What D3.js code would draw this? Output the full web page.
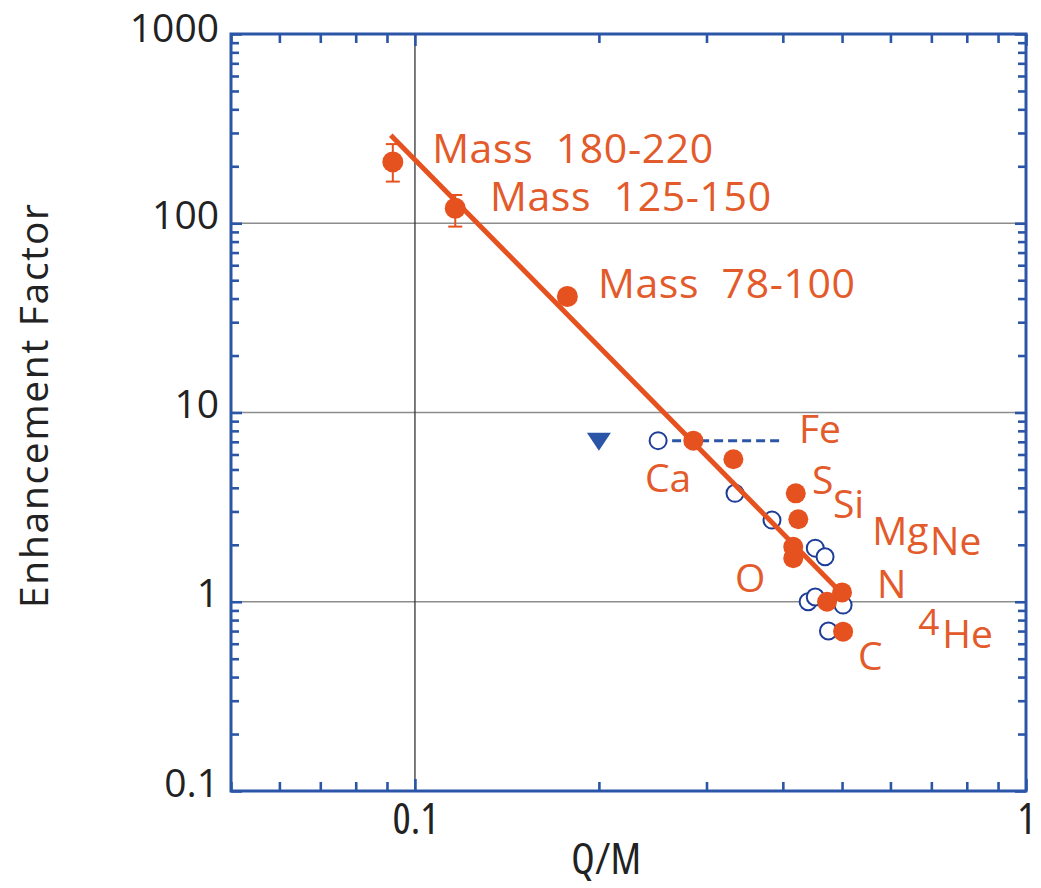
<!DOCTYPE html>
<html>
<head>
<meta charset="utf-8">
<script src="https://cdn.jsdelivr.net/npm/d3@7/dist/d3.min.js"></script>
<style>
  html, body { margin: 0; padding: 0; background: #fff; }
  svg { display: block; }
  .lbl { white-space: pre; }
</style>
</head>
<body>
<svg id="chart" width="1041" height="888"></svg>
<script>
// Heavy-ion enhancement factor versus charge-to-mass ratio

// Heavy nuclei mass groups
const massNames = ["Mass  180-220", "Mass  125-150", "Mass  78-100"];
const massQM    = [0.092, 0.1164, 0.1776];
const massEF    = [211, 120, 41];
const massErrLo = [166, 96, null];
const massErrHi = [262, 141, null];

// Element enhancements (filled symbols)
const filledQM = [0.2855, 0.332, 0.42, 0.424, 0.416, 0.416, 0.4725, 0.50, 0.502];
const filledEF = [7.1, 5.66, 3.74, 2.73, 1.95, 1.70, 1.0, 1.12, 0.695];

// Comparison enhancements (open symbols)
const openQM = [0.25, 0.334, 0.384, 0.452, 0.469, 0.440, 0.452, 0.502, 0.475];
const openEF = [7.1, 3.74, 2.70, 1.92, 1.73, 1.0, 1.06, 0.96, 0.70];

// Upper limit marker and its dashed range
const limitQM = [0.2];
const limitEF = [7.1];
const rangeQM = [0.25, 0.4];
const rangeEF = [7.1, 7.1];

// Power-law fit end points
const fitQM = [0.0913, 0.49];
const fitEF = [292, 1.18];

// Element names and where they sit (Q/M, factor)
const elemNames = ["Fe", "Ca", "S", "Si", "Mg", "Ne", "O", "N", "C"];
const elemQM    = [0.425, 0.2379, 0.4466, 0.4832, 0.56, 0.6965, 0.334, 0.5705, 0.531];
const elemEF    = [6.9, 3.8, 3.71, 2.77, 1.995, 1.766, 1.126, 1.047, 0.436];
// Mass group label anchors
const massLblQM = [0.1067, 0.1327, 0.1993];
const massLblEF = [208, 116, 40.3];
// 4He label anchor
const heQM = [0.666];
const heEF = [0.667];

// Axis ticks
const yMajor = [0.1, 1, 10, 100, 1000];
const yLabels = ["0.1", "1", "10", "100", "1000"];
const xMajor = [0.1, 1];
const xLabels = ["0.1", "1"];
const yGrid = [1, 10, 100];
const xGrid = [0.1];

const W = 1041, H = 888;
const M = { left: 231, right: W - 1026, top: 34, bottom: H - 791 };
const iw = W - M.left - M.right, ih = H - M.top - M.bottom;

const ORANGE = "#e6521f", ORANGE_TXT = "#e35a2b", BLUE = "#2b56a8", OPEN_BLUE = "#1f3d98";

const svg = d3.select("#chart");
const g = svg.append("g").attr("transform", `translate(${M.left},${M.top})`);

const x = d3.scaleLog().domain([0.05, 1]).range([0, iw]);
const y = d3.scaleLog().domain([0.1, 1000]).range([ih, 0]);

const xMinor = x.ticks().filter(v => !xMajor.some(m => Math.abs(m - v) < 1e-9));
const yMinor = y.ticks().filter(v => !yMajor.some(m => Math.abs(m - v) < 1e-9));

// Grid lines
g.append("g").selectAll("line").data(yGrid).join("line")
  .attr("x1", 0).attr("x2", iw)
  .attr("y1", d => y(d)).attr("y2", d => y(d))
  .attr("stroke", "#8c8c8c").attr("stroke-width", 1.6);
g.append("g").selectAll("line").data(xGrid).join("line")
  .attr("x1", d => x(d)).attr("x2", d => x(d))
  .attr("y1", 0).attr("y2", ih)
  .attr("stroke", "#333").attr("stroke-width", 1.3);

// Axes: ticks on all four sides, pointing inward
function styleAxis(sel) {
  sel.select(".domain").remove();
  sel.selectAll(".tick line").attr("stroke", BLUE).attr("stroke-width", 2.6);
}
const fontTick = "'Open Sans', 'DejaVu Sans', sans-serif";
const fontNarrow = "'Open Sans', 'DejaVu Sans', sans-serif";

g.append("g").call(d3.axisLeft(y).tickValues(yMinor).tickSize(-8).tickFormat("")).call(styleAxis);
g.append("g").call(d3.axisLeft(y).tickValues(yMajor).tickSize(-11).tickPadding(12)
    .tickFormat((d, i) => yLabels[i])).call(styleAxis)
  .call(s => s.selectAll("text").attr("font-family", fontTick).attr("font-size", 39)
    .attr("fill", "#222").attr("dy", d => d === 1000 ? "0.2em" : "0.13em"));
g.append("g").attr("transform", `translate(${iw},0)`)
  .call(d3.axisRight(y).tickValues(yMinor).tickSize(-8).tickFormat("")).call(styleAxis);
g.append("g").attr("transform", `translate(${iw},0)`)
  .call(d3.axisRight(y).tickValues(yMajor).tickSize(-11).tickFormat("")).call(styleAxis);

g.append("g").attr("transform", `translate(0,${ih})`)
  .call(d3.axisBottom(x).tickValues(xMinor).tickSize(-9).tickFormat("")).call(styleAxis);
g.append("g").attr("transform", `translate(0,${ih})`)
  .call(d3.axisBottom(x).tickValues(xMajor).tickSize(-12).tickPadding(12)
    .tickFormat((d, i) => xLabels[i])).call(styleAxis)
  .call(s => s.selectAll("text").attr("font-family", fontNarrow).attr("font-size", 43)
    .attr("font-stretch", "condensed")
    .attr("fill", "#222").attr("dy", "0.71em"));
g.append("g")
  .call(d3.axisTop(x).tickValues(xMinor).tickSize(-9).tickFormat("")).call(styleAxis);
g.append("g")
  .call(d3.axisTop(x).tickValues(xMajor).tickSize(-12).tickFormat("")).call(styleAxis);

// Frame
g.append("rect").attr("x", 0).attr("y", 0).attr("width", iw).attr("height", ih)
  .attr("fill", "none").attr("stroke", BLUE).attr("stroke-width", 3);

// Axis titles
svg.append("text")
  .attr("transform", `translate(48,406) rotate(-90)`)
  .attr("text-anchor", "middle")
  .attr("font-family", fontTick).attr("font-size", 39).attr("fill", "#222")
  .attr("textLength", 404).attr("lengthAdjust", "spacing")
  .text("Enhancement Factor");
svg.append("text")
  .attr("x", M.left + x(0.2055)).attr("y", 874)
  .attr("text-anchor", "middle")
  .attr("font-family", fontNarrow).attr("font-size", 43).attr("fill", "#222")
  .attr("font-stretch", "condensed")
  .text("Q/M");

// Dashed range and upper-limit marker
g.append("path")
  .attr("d", d3.line().x(d => x(d[0])).y(d => y(d[1]))(d3.zip(rangeQM, rangeEF)))
  .attr("stroke", BLUE).attr("stroke-width", 3).attr("fill", "none")
  .attr("stroke-dasharray", "9,5");
g.append("g").selectAll("path").data(d3.zip(limitQM, limitEF)).join("path")
  .attr("transform", d => `translate(${x(d[0])},${y(d[1])})`)
  .attr("d", "M-12,-8L12,-8L0,10Z")
  .attr("fill", BLUE);

// Open symbols
g.append("g").selectAll("circle").data(d3.zip(openQM, openEF)).join("circle")
  .attr("cx", d => x(d[0])).attr("cy", d => y(d[1])).attr("r", 8.5)
  .attr("fill", "#fff").attr("stroke", OPEN_BLUE).attr("stroke-width", 2);

// Error bars on the mass groups
const errs = d3.range(massQM.length).filter(i => massErrLo[i] != null);
const eb = g.append("g").attr("stroke", ORANGE).attr("stroke-width", 2);
eb.selectAll("line.v").data(errs).join("line").attr("class", "v")
  .attr("x1", i => x(massQM[i])).attr("x2", i => x(massQM[i]))
  .attr("y1", i => y(massErrLo[i])).attr("y2", i => y(massErrHi[i]));
eb.selectAll("line.lo").data(errs).join("line").attr("class", "lo")
  .attr("x1", i => x(massQM[i]) - 7).attr("x2", i => x(massQM[i]) + 7)
  .attr("y1", i => y(massErrLo[i])).attr("y2", i => y(massErrLo[i]));
eb.selectAll("line.hi").data(errs).join("line").attr("class", "hi")
  .attr("x1", i => x(massQM[i]) - 7).attr("x2", i => x(massQM[i]) + 7)
  .attr("y1", i => y(massErrHi[i])).attr("y2", i => y(massErrHi[i]));

// Fit line
g.append("path")
  .attr("d", d3.line().x(d => x(d[0])).y(d => y(d[1]))(d3.zip(fitQM, fitEF)))
  .attr("stroke", ORANGE).attr("stroke-width", 5).attr("fill", "none");

// Filled symbols
g.append("g").selectAll("circle").data(d3.zip(massQM, massEF)).join("circle")
  .attr("cx", d => x(d[0])).attr("cy", d => y(d[1])).attr("r", 10.5)
  .attr("fill", ORANGE);
g.append("g").selectAll("circle").data(d3.zip(filledQM, filledEF)).join("circle")
  .attr("cx", d => x(d[0])).attr("cy", d => y(d[1])).attr("r", 10)
  .attr("fill", ORANGE);

// Labels
const fontLbl = "'Open Sans', 'DejaVu Sans', sans-serif";
g.append("g").selectAll("text").data(d3.range(massNames.length)).join("text")
  .attr("class", "lbl")
  .attr("x", i => x(massLblQM[i])).attr("y", i => y(massLblEF[i]))
  .attr("font-family", fontLbl).attr("font-size", 41).attr("fill", ORANGE_TXT)
  .attr("letter-spacing", 0.6)
  .text(i => massNames[i]);
g.append("g").selectAll("text").data(d3.range(elemNames.length)).join("text")
  .attr("x", i => x(elemQM[i])).attr("y", i => y(elemEF[i]))
  .attr("font-family", fontLbl).attr("font-size", 39).attr("fill", ORANGE_TXT)
  .text(i => elemNames[i]);
const he = g.append("text")
  .attr("x", x(heQM[0])).attr("y", y(heEF[0]))
  .attr("font-family", fontLbl).attr("font-size", 37).attr("fill", ORANGE_TXT);
he.append("tspan").text("4");
he.append("tspan").attr("dx", 3).attr("dy", 13).attr("font-size", 39).text("He");
</script>
</body>
</html>
